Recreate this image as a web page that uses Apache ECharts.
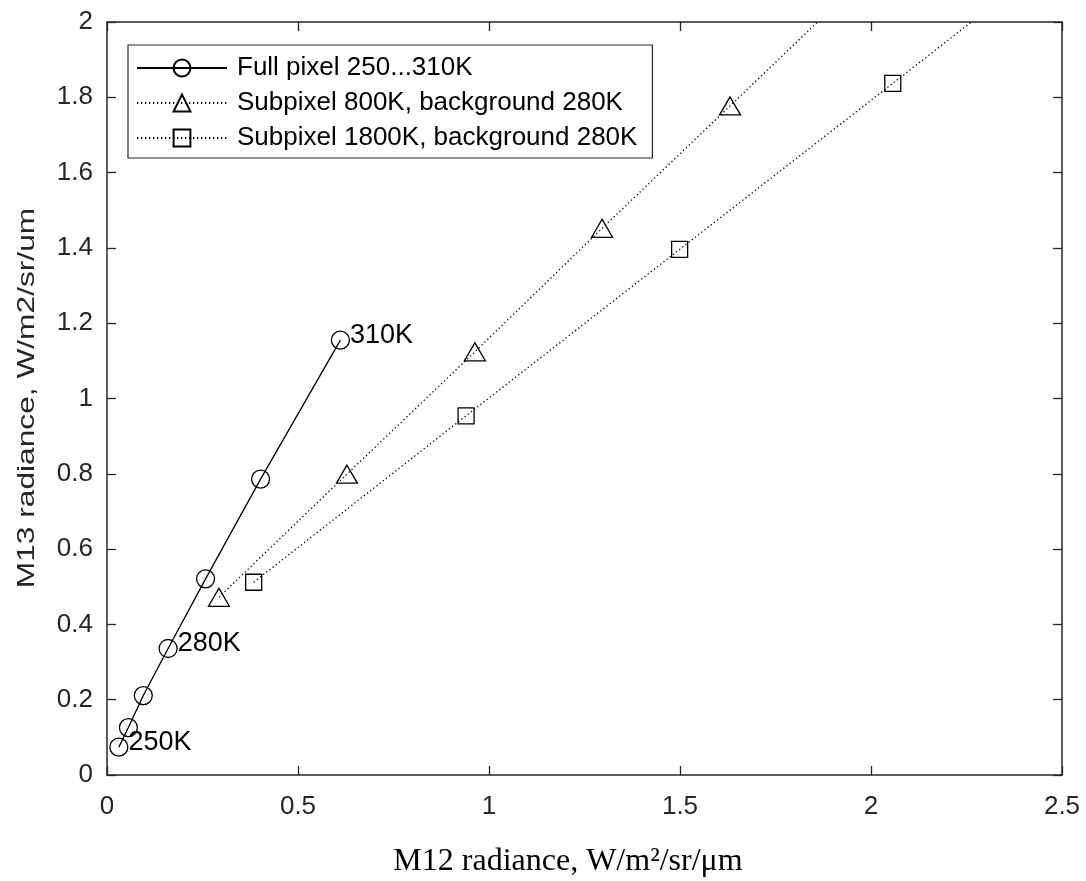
<!DOCTYPE html>
<html>
<head>
<meta charset="utf-8">
<script src="https://cdn.jsdelivr.net/npm/echarts@6/dist/echarts.min.js"></script>
<style>
  html, body { margin: 0; padding: 0; background: #fff; }
  #chart { width: 1086px; height: 881px; }
</style>
</head>
<body>
<div id="chart"></div>
<script>
// ---- data ----
const seriesNames = [
  'Full pixel 250...310K',
  'Subpixel 800K, background 280K',
  'Subpixel 1800K, background 280K'
];
// Full pixel, 250K ... 310K in 10K steps
const fullX = [0.031, 0.056, 0.095, 0.160, 0.258, 0.402, 0.611];
const fullY = [0.074, 0.126, 0.211, 0.336, 0.521, 0.786, 1.155];
const fullLabels = ['250K', '', '', '280K', '', '', '310K'];
// Subpixel 800K (last point lies above the plotted range; estimated from the line leaving the top edge)
const sub800X = [0.293, 0.628, 0.963, 1.296, 1.631, 1.966];
const sub800Y = [0.472, 0.799, 1.124, 1.452, 1.777, 2.103];
// Subpixel 1800K (last point lies outside the plotted range; estimated from the line leaving the top edge)
const sub1800X = [0.384, 0.940, 1.499, 2.057, 2.615];
const sub1800Y = [0.512, 0.954, 1.396, 1.837, 2.279];

const xTicks = { min: 0, max: 2.5, interval: 0.5 };
const yTicks = { min: 0, max: 2, interval: 0.2 };
const xTitle = 'M12 radiance, W/m\u00B2/sr/\u03BCm';
const yTitle = 'M13 radiance, W/m2/sr/um';

// ---- chart ----
const axisColor = '#262626';
const sans = '"Liberation Sans", Arial, Helvetica, sans-serif';

function pairs(xs, ys) { return xs.map((x, i) => [x, ys[i]]); }

const fullData = pairs(fullX, fullY).map((p, i) => {
  const item = { value: p };
  if (fullLabels[i]) {
    item.label = { show: true, formatter: fullLabels[i] };
  }
  return item;
});

function baseAxis(extra) {
  return Object.assign({
    type: 'value',
    splitLine: { show: false },
    axisLine: { show: true, onZero: false, lineStyle: { color: axisColor, width: 1.5 } },
    axisTick: { show: true, inside: true, length: 9, lineStyle: { color: axisColor, width: 1.3 } },
    axisLabel: { show: false }
  }, extra);
}

const chart = echarts.init(document.getElementById('chart'), null, { renderer: 'canvas' });
chart.setOption({
  animation: false,
  backgroundColor: '#ffffff',
  grid: { left: 107, right: 24, top: 22, bottom: 106, containLabel: false, outerBoundsMode: 'none' },
  xAxis: [
    baseAxis({
      position: 'bottom', min: xTicks.min, max: xTicks.max, interval: xTicks.interval,
      axisLabel: { show: true, color: axisColor, fontFamily: sans, fontSize: 26, margin: 19 }
    }),
    baseAxis({ position: 'top', min: xTicks.min, max: xTicks.max, interval: xTicks.interval })
  ],
  yAxis: [
    baseAxis({
      position: 'left', min: yTicks.min, max: yTicks.max, interval: yTicks.interval,
      axisLabel: { show: true, color: axisColor, fontFamily: sans, fontSize: 26, margin: 14 }
    }),
    baseAxis({ position: 'right', min: yTicks.min, max: yTicks.max, interval: yTicks.interval })
  ],
  legend: {
    orient: 'vertical',
    left: 128, top: 45,
    padding: [10, 15, 7, 8],
    itemGap: 9,
    itemWidth: 90,
    itemHeight: 21,
    borderColor: axisColor,
    borderWidth: 1.2,
    backgroundColor: '#fff',
    data: seriesNames,
    textStyle: { color: '#000', fontFamily: sans, fontSize: 26, lineHeight: 26, padding: [0, 0, 0, 5] }
  },
  series: [
    {
      name: seriesNames[0], type: 'line', data: fullData,
      symbol: 'circle', symbolSize: 18, clip: true, z: 3,
      lineStyle: { color: '#000', width: 1.3, type: 'solid' },
      itemStyle: { color: 'rgba(0,0,0,0)', borderColor: '#000', borderWidth: 1.3 },
      label: {
        show: false, position: 'right', distance: 0, offset: [0, -5],
        color: '#000', fontFamily: sans, fontSize: 27
      },
      emphasis: { disabled: true }
    },
    {
      name: seriesNames[1], type: 'line', data: pairs(sub800X, sub800Y),
      symbol: 'triangle', symbolSize: [21, 18], clip: true, z: 2,
      lineStyle: { color: '#000', width: 1.3, type: [1.3, 2.7] },
      itemStyle: { color: 'rgba(0,0,0,0)', borderColor: '#000', borderWidth: 1.3 },
      emphasis: { disabled: true }
    },
    {
      name: seriesNames[2], type: 'line', data: pairs(sub1800X, sub1800Y),
      symbol: 'rect', symbolSize: 16, clip: true, z: 2,
      lineStyle: { color: '#000', width: 1.3, type: [1.3, 2.7] },
      itemStyle: { color: 'rgba(0,0,0,0)', borderColor: '#000', borderWidth: 1.3 },
      emphasis: { disabled: true }
    }
  ],
  graphic: [
    {
      type: 'text', x: 27, y: 398, rotation: Math.PI / 2, scaleX: 1.32, scaleY: 1,
      style: {
        text: yTitle, fill: axisColor, font: '24px ' + sans,
        align: 'center', verticalAlign: 'middle'
      }
    },
    {
      type: 'text', x: 568, y: 862,
      style: {
        text: xTitle, fill: '#000', font: '32px "Liberation Serif", "Times New Roman", serif',
        align: 'center', verticalAlign: 'middle'
      }
    }
  ]
});
</script>
</body>
</html>
